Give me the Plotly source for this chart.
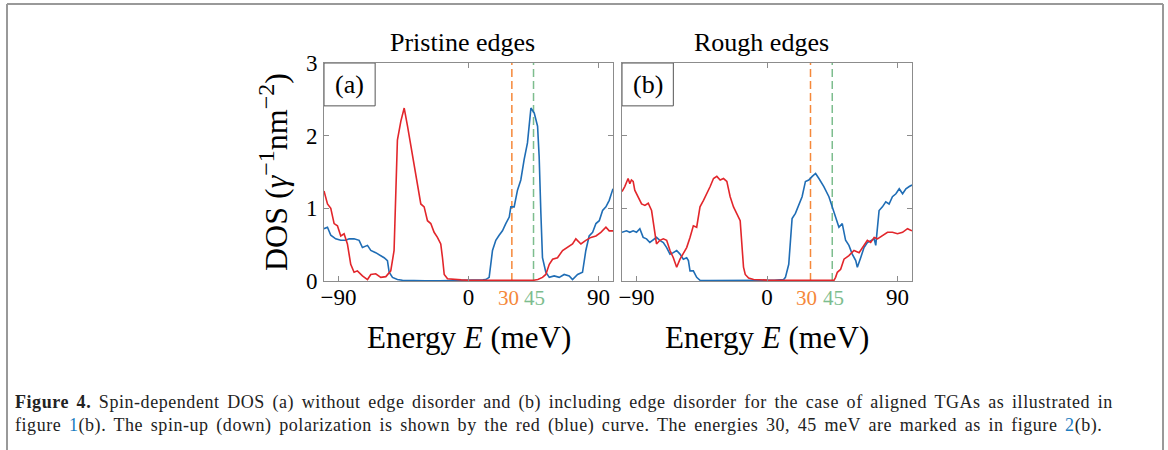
import plotly.graph_objects as go

# ---------------- data (energies in meV, DOS in gamma^-1 nm^-2) ----------------
a_red_E = [-100, -97.6, -95.3, -93, -90.7, -88.4, -86.1, -83.8, -81.5, -79.2,
           -76.9, -73.4, -69.9, -67.6, -64.2, -60.7, -57.2, -53.8, -51.5, -49.2,
           -46.8, -44.5, -42.2, -39.9, -37.6, -35.3, -33, -30.7, -28.4, -26.1,
           -23.8, -21.5, -19.2, -18, -16.8, -14.5, -10, -5, 0, 5,
           10, 20, 30, 40, 45, 48, 51.2, 53.5, 55.9, 58.2,
           61.6, 65.1, 68.5, 72, 74.3, 77.8, 81.2, 84.7, 88.2, 91.6,
           95.1, 97.4, 100]
a_red_D = [1.24, 1.06, 1.0, 0.79, 0.76, 0.62, 0.65, 0.51, 0.23, 0.12,
           0.14, 0.07, 0.02, 0.09, 0.10, 0.05, 0.06, 0.14, 0.42, 1.94,
           2.2, 2.38, 2.13, 1.85, 1.57, 1.34, 1.06, 1.02, 0.83, 0.79,
           0.67, 0.60, 0.51, 0.32, 0.09, 0.03, 0.02, 0.015, 0.01, 0.01,
           0.01, 0.008, 0.006, 0.006, 0.01, 0.02, 0.05, 0.09, 0.23, 0.30,
           0.32, 0.42, 0.46, 0.51, 0.58, 0.51, 0.56, 0.60, 0.62, 0.67,
           0.74, 0.69, 0.69]

a_blue_E = [-100, -97.6, -95.3, -91.9, -88.4, -84.9, -82.6, -79.2, -75.7, -73.4,
            -69.9, -67.6, -64.2, -60.7, -58.4, -56.1, -54.9, -52.6, -49.2, -45.7,
            -40, -30, -20, -10, 0, 5, 10, 12, 14.3, 16.6,
            18.9, 21.2, 23.5, 25.8, 28.2, 29.3, 31.6, 33.9, 36.2, 38.5,
            40.8, 43.2, 45.5, 47.8, 48.9, 50.1, 51.2, 53.5, 55.9, 59.3,
            62.8, 66.2, 69.7, 72, 75.5, 78.9, 81.2, 83.5, 85.9, 88.2,
            90.5, 92.8, 95.1, 97.4, 100]
a_blue_D = [0.72, 0.74, 0.63, 0.58, 0.56, 0.56, 0.58, 0.58, 0.56, 0.46,
            0.49, 0.42, 0.39, 0.35, 0.32, 0.28, 0.12, 0.05, 0.02, 0.01,
            0.005, 0.004, 0.004, 0.005, 0.006, 0.008, 0.015, 0.02, 0.05, 0.42,
            0.56, 0.63, 0.69, 0.79, 0.88, 1.02, 1.02, 1.25, 1.39, 1.67,
            1.9, 2.38, 2.31, 2.13, 1.71, 0.93, 0.32, 0.12, 0.05, 0.07,
            0.05, 0.09, 0.07, 0.02, 0.09, 0.12, 0.42, 0.62, 0.67, 0.79,
            0.83, 0.97, 1.02, 1.11, 1.27]

b_red_E = [-100, -98.1, -95.8, -94.6, -93.5, -92.3, -91.2, -88.9, -86.5, -84.2,
           -81.9, -79.6, -77.3, -76.2, -73.9, -71.5, -69.2, -66.9, -64.6, -62.3,
           -60, -57.7, -55.4, -53.1, -50.8, -48.5, -46.2, -43.8, -41.5, -39.2,
           -36.9, -34.6, -32.3, -30, -27.7, -25.4, -23.1, -20.8, -18.5, -16.2,
           -15, -12.7, -9.2, 0, 10, 20, 30, 40, 46.2, 47.3,
           48.5, 50.8, 53.1, 56.5, 60, 63.5, 66.9, 69.2, 71.5, 73.9,
           76.2, 79.6, 83.1, 86.5, 90, 93.5, 96.9, 100]
b_red_D = [1.23, 1.30, 1.41, 1.34, 1.39, 1.37, 1.25, 1.16, 1.06, 1.04,
           1.07, 0.97, 0.69, 0.51, 0.56, 0.58, 0.56, 0.42, 0.32, 0.19,
           0.30, 0.39, 0.46, 0.60, 0.76, 0.74, 1.02, 1.11, 1.20, 1.30,
           1.41, 1.44, 1.39, 1.41, 1.37, 1.16, 1.02, 0.93, 0.83, 0.19,
           0.09, 0.04, 0.02, 0.012, 0.01, 0.008, 0.006, 0.006, 0.01, 0.05,
           0.12, 0.16, 0.30, 0.35, 0.42, 0.39, 0.49, 0.56, 0.53, 0.60,
           0.58, 0.62, 0.67, 0.67, 0.65, 0.67, 0.72, 0.69]

b_blue_E = [-100, -96.9, -94.6, -92.3, -90, -87.7, -85.4, -83.1, -80.8, -78.5,
            -76.2, -73.9, -71.5, -69.2, -66.9, -64.6, -62.3, -60, -57.7, -55.4,
            -54.2, -53.1, -50.8, -48.5, -46.2, -40, -30, -20, -10, 0,
            5, 11.5, 12.7, 15, 17.3, 19.6, 21.9, 24.2, 26.5, 28.8,
            31.2, 33.5, 35.8, 39.2, 42.7, 45, 47.3, 49.6, 51.9, 54.2,
            56.5, 58.8, 61.2, 62.3, 64.6, 66.9, 69.2, 71.5, 73.9, 75,
            77.3, 79.6, 81.9, 84.2, 86.5, 88.9, 91.2, 93.5, 95.8, 98.1,
            100]
b_blue_D = [0.67, 0.69, 0.67, 0.69, 0.67, 0.72, 0.60, 0.58, 0.53, 0.56,
            0.60, 0.56, 0.53, 0.46, 0.37, 0.39, 0.42, 0.37, 0.30, 0.32,
            0.28, 0.14, 0.14, 0.05, 0.01, 0.005, 0.004, 0.004, 0.005, 0.006,
            0.01, 0.02, 0.05, 0.23, 0.86, 0.93, 1.06, 1.16, 1.37, 1.39,
            1.44, 1.48, 1.41, 1.30, 1.16, 1.02, 0.88, 0.74, 0.79, 0.56,
            0.49, 0.37, 0.28, 0.19, 0.32, 0.46, 0.53, 0.56, 0.58, 0.49,
            0.97, 1.02, 1.09, 1.06, 1.16, 1.20, 1.27, 1.20, 1.27, 1.30,
            1.32]

marked_E = [30, 45]
marked_colors = ["#f5883a", "#7dbd8e"]
marked_label_shift = [-2.6, 1.0]   # small horizontal nudge of the coloured labels (meV)
x_ticks = [-90, 0, 90]
x_ticktext = ["\u221290", "0", "90"]
y_ticks = [0, 1, 2, 3]
panel_titles = ["Pristine edges", "Rough edges"]
panel_tags = ["(a)", "(b)"]

RED = "#e2262b"
BLUE = "#1f6db5"
AX = "#8c8c8c"
FONT = "Liberation Serif"
W, H = 1168, 450

fig = go.Figure()
panels = [(a_red_E, a_red_D, a_blue_E, a_blue_D), (b_red_E, b_red_D, b_blue_E, b_blue_D)]
for i, (rE, rD, bE, bD) in enumerate(panels):
    xa = "x" if i == 0 else "x2"
    ya = "y" if i == 0 else "y2"
    fig.add_trace(go.Scatter(x=bE, y=bD, mode="lines", line=dict(color=BLUE, width=1.6),
                             xaxis=xa, yaxis=ya, showlegend=False))
    fig.add_trace(go.Scatter(x=rE, y=rD, mode="lines", line=dict(color=RED, width=1.6),
                             xaxis=xa, yaxis=ya, showlegend=False))

xdoms = [[324 / W, 613 / W], [622 / W, 912 / W]]
ydom = [1 - 281 / H, 1 - 63 / H]
axis_common = dict(showline=True, linecolor=AX, linewidth=1, mirror="ticks",
                   ticks="inside", ticklen=5, tickcolor=AX, tickwidth=1,
                   showgrid=False, zeroline=False, automargin=False,
                   tickfont=dict(family=FONT, size=23, color="black"))
fig.update_layout(
    template="none",
    xaxis=dict(domain=xdoms[0], range=[-100, 100], tickvals=x_ticks, ticktext=x_ticktext,
               anchor="y", ticklabelstandoff=-5, **axis_common),
    xaxis2=dict(domain=xdoms[1], range=[-100, 100], tickvals=x_ticks, ticktext=x_ticktext,
                anchor="y2", ticklabelstandoff=-5, **axis_common),
    yaxis=dict(domain=ydom, range=[0, 3], tickvals=y_ticks, anchor="x",
               ticklabelstandoff=1, **axis_common),
    yaxis2=dict(domain=ydom, range=[0, 3], tickvals=y_ticks, anchor="x2",
                showticklabels=False, **axis_common),
)

shapes = []
annotations = []
for i in range(2):
    xr = "x" if i == 0 else "x2"
    yr = "y" if i == 0 else "y2"
    for E, c, dx in zip(marked_E, marked_colors, marked_label_shift):
        shapes.append(dict(type="line", xref=xr, yref=yr, x0=E, x1=E, y0=0, y1=3,
                           layer="below",
                           line=dict(color=c, width=1.5, dash="8px,4px")))
        annotations.append(dict(x=E + dx, xref=xr, y=1 - 298 / H, yref="paper", text=str(E),
                                showarrow=False, font=dict(family=FONT, size=21, color=c),
                                xanchor="center", yanchor="middle"))
    # tag box
    shapes.append(dict(type="rect", xref=xr, yref=yr, x0=-100, x1=-64.6, y0=2.41, y1=3,
                       line=dict(color="#555555", width=1), fillcolor="white", layer="above"))
    annotations.append(dict(x=-82.3, xref=xr, y=2.70, yref=yr, text=panel_tags[i],
                            showarrow=False, xanchor="center", yanchor="middle",
                            font=dict(family=FONT, size=26, color="black")))
    cx = (xdoms[i][0] + xdoms[i][1]) / 2
    annotations.append(dict(x=cx - 6 / W, xref="paper", y=1 - 42 / H, yref="paper",
                            text=panel_titles[i], showarrow=False,
                            xanchor="center", yanchor="middle",
                            font=dict(family=FONT, size=26, color="black")))
    annotations.append(dict(x=cx, xref="paper", y=1 - 337 / H, yref="paper",
                            text="Energy <i>E</i> (meV)", showarrow=False,
                            xanchor="center", yanchor="middle",
                            font=dict(family=FONT, size=31, color="black")))

annotations.append(dict(x=273 / W, xref="paper", y=1 - 172 / H, yref="paper",
                        text=("DOS (<i>\u03b3</i><sup><span style='font-size:24px'>\u22121</span></sup>"
                              "nm<sup><span style='font-size:24px'>\u22122</span></sup>)"),
                        textangle=-90, showarrow=False, xanchor="center", yanchor="middle",
                        font=dict(family=FONT, size=32, color="black")))

LINK = "#1b7cc0"
SP = "letter-spacing:0.55px;word-spacing:2.6px"
cap1 = ("<span style='%s'><b>Figure 4.</b> Spin-dependent DOS (a) without edge disorder and (b) "
        "including edge disorder for the case of aligned TGAs as illustrated in</span>") % SP
cap2 = ("<span style='%s'>figure </span><span style='color:%s;%s'>1</span>"
        "<span style='%s'>(b). The spin-up (down) polarization is shown by the "
        "red (blue) curve. The energies 30, 45 meV are marked as in figure </span>"
        "<span style='color:%s;%s'>2</span><span style='%s'>(b).</span>") % (SP, LINK, SP, SP, LINK, SP, SP)
annotations.append(dict(x=13 / W, xref="paper", y=1 - 402.5 / H, yref="paper", text=cap1,
                        showarrow=False, xanchor="left", yanchor="middle",
                        font=dict(family=FONT, size=18, color="#222222")))
annotations.append(dict(x=13 / W, xref="paper", y=1 - 425.5 / H, yref="paper", text=cap2,
                        showarrow=False, xanchor="left", yanchor="middle",
                        font=dict(family=FONT, size=18, color="#222222")))

# outer frame
for (x0, y0, x1, y1) in [(7, 4, 1163, 4), (7, 4, 7, 450), (1163, 4, 1163, 450)]:
    shapes.append(dict(type="line", xref="paper", yref="paper", x0=x0 / W, x1=x1 / W,
                       y0=1 - y0 / H, y1=1 - y1 / H, line=dict(color="#999999", width=2)))

fig.update_layout(width=W, height=H, margin=dict(l=0, r=0, t=0, b=0, pad=0),
                  autosize=False,
                  paper_bgcolor="white", plot_bgcolor="white",
                  shapes=shapes, annotations=annotations, showlegend=False)
fig.write_html("out.html")
